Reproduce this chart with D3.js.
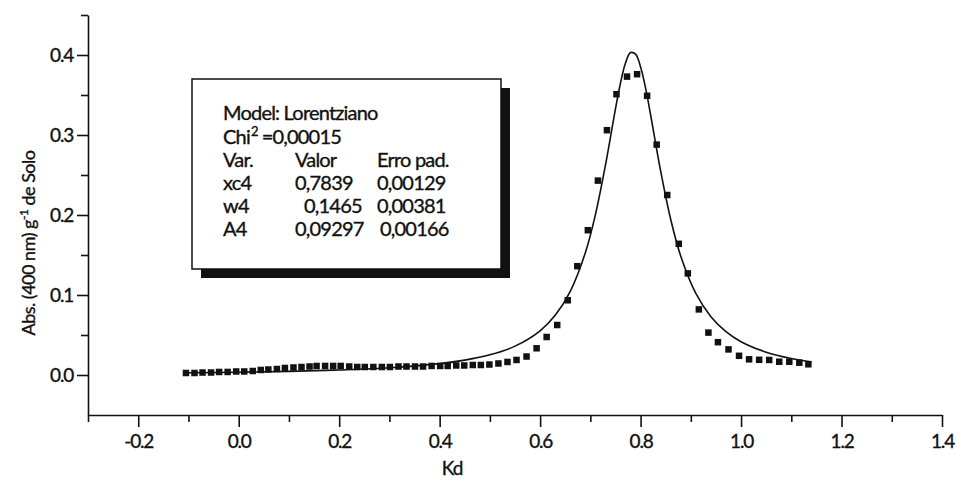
<!DOCTYPE html>
<meta charset="utf-8">

<style>
  body { margin: 0; background: #fff; }
  text { font-family: "Lato", "DejaVu Sans", sans-serif; fill: #111; stroke: #111; stroke-width: 0.35px; }
  .axis path, .axis line { stroke: #111; stroke-width: 1.6px; }
  .axis text { font-size: 19px; letter-spacing: -1.2px; }
  .legend text { font-size: 20px; letter-spacing: -0.8px; }
</style>

<!-- Load d3.js -->
<script src="https://d3js.org/d3.v7.min.js"></script>

<div id="my_dataviz"></div>

<script>

// measured points (Kd, Abs)
var kd = [-0.105, -0.088, -0.072, -0.055, -0.039, -0.022, -0.005, 0.011, 0.028, 0.044,
          0.059, 0.076, 0.092, 0.109, 0.125, 0.141, 0.155, 0.172, 0.188, 0.203,
          0.220, 0.236, 0.251, 0.268, 0.285, 0.301, 0.318, 0.334, 0.351, 0.367,
          0.384, 0.401, 0.416, 0.433, 0.449, 0.466, 0.482, 0.499, 0.517, 0.535,
          0.553, 0.573, 0.593, 0.613, 0.634, 0.655, 0.674, 0.695, 0.715, 0.733,
          0.752, 0.773, 0.793, 0.813, 0.832, 0.853, 0.876, 0.894, 0.916, 0.935,
          0.954, 0.975, 0.996, 1.016, 1.036, 1.056, 1.076, 1.096, 1.116, 1.134];
var abs = [0.0025, 0.0025, 0.0031, 0.0031, 0.0038, 0.0038, 0.0044, 0.0044, 0.0050, 0.0063,
           0.0069, 0.0075, 0.0088, 0.0094, 0.0100, 0.0106, 0.0113, 0.0113, 0.0113, 0.0113,
           0.0106, 0.0100, 0.0100, 0.0100, 0.0100, 0.0100, 0.0106, 0.0106, 0.0106, 0.0106,
           0.0113, 0.0113, 0.0113, 0.0119, 0.0119, 0.0125, 0.0125, 0.0131, 0.0144, 0.0163,
           0.0188, 0.0231, 0.0334, 0.0475, 0.0625, 0.0934, 0.136, 0.181, 0.243, 0.306,
           0.351, 0.373, 0.376, 0.349, 0.288, 0.225, 0.164, 0.127, 0.082, 0.053,
           0.041, 0.032, 0.024, 0.0196, 0.0190, 0.0188, 0.0166, 0.0166, 0.0154, 0.0134];

// fitted curve
var fitKd = [-0.10, 0.00, 0.10, 0.20, 0.30, 0.40, 0.45, 0.50, 0.55, 0.60, 0.63, 0.66, 0.69,
             0.71, 0.73, 0.75, 0.76, 0.77, 0.78, 0.79, 0.80, 0.81, 0.82, 0.84, 0.86, 0.88,
             0.91, 0.94, 0.97, 1.00, 1.05, 1.10, 1.14];
var fitAbs = [0.0028, 0.0035, 0.0045, 0.0063, 0.0090, 0.0142, 0.0186, 0.0252, 0.0361, 0.0553,
              0.0746, 0.1046, 0.1528, 0.2002, 0.2621, 0.3327, 0.365, 0.390, 0.403, 0.401,
              0.385, 0.3585, 0.325, 0.2547, 0.1943, 0.1485, 0.1019, 0.0729, 0.0542, 0.0416,
              0.0285, 0.0206, 0.0164];

// axes
var xTicks = [-0.2, 0.0, 0.2, 0.4, 0.6, 0.8, 1.0, 1.2, 1.4];
var xTickLabels = ["-0.2", "0.0", "0.2", "0.4", "0.6", "0.8", "1.0", "1.2", "1.4"];
var xMinor = [-0.3, -0.1, 0.1, 0.3, 0.5, 0.7, 0.9, 1.1, 1.3];
var yTicks = [0.0, 0.1, 0.2, 0.3, 0.4];
var yTickLabels = ["0.0", "0.1", "0.2", "0.3", "0.4"];
var yMinor = [0.05, 0.15, 0.25, 0.35, 0.45];

// fit results box
var fitTitle = "Model: Lorentziano";
var chiValue = "=0,00015";
var fitHeader = ["Var.", "Valor", "Erro pad."];
var fitParams = ["xc4", "w4", "A4"];
var fitValues = ["0,7839", "0,1465", "0,09297"];
var fitErrors = ["0,00129", "0,00381", "0,00166"];

var margin = {top: 15, right: 15, bottom: 71, left: 88},
    width = 957 - margin.left - margin.right,
    height = 486 - margin.top - margin.bottom;

var svg = d3.select("#my_dataviz")
  .append("svg")
    .attr("width", width + margin.left + margin.right)
    .attr("height", height + margin.top + margin.bottom)
  .append("g")
    .attr("transform", "translate(" + margin.left + "," + margin.top + ")");

var x = d3.scaleLinear()
  .domain([-0.3, 1.4])
  .range([0, width]);

var y = d3.scaleLinear()
  .domain([-0.05, 0.45])
  .range([height, 0]);

// X axis: major + minor ticks
svg.append("g")
  .attr("class", "axis")
  .attr("transform", "translate(0," + height + ")")
  .call(d3.axisBottom(x).tickValues(xTicks).tickSize(12).tickSizeOuter(0)
        .tickFormat(function(d, i) { return xTickLabels[i]; }))
  .selectAll("text").attr("dy", "0.95em");

svg.append("g")
  .attr("class", "axis")
  .attr("transform", "translate(0," + height + ")")
  .call(d3.axisBottom(x).tickValues(xMinor).tickSize(7).tickFormat(""))
  .select(".domain").remove();

// Y axis
svg.append("g")
  .attr("class", "axis")
  .call(d3.axisLeft(y).tickValues(yTicks).tickSize(11).tickSizeOuter(0)
        .tickFormat(function(d, i) { return yTickLabels[i]; }))
  .selectAll("text").attr("x", -15);

svg.append("g")
  .attr("class", "axis")
  .call(d3.axisLeft(y).tickValues(yMinor).tickSize(7).tickFormat(""))
  .select(".domain").remove();

// axis titles
svg.append("text")
  .attr("x", 364)
  .attr("y", height + 60)
  .attr("text-anchor", "middle")
  .style("font-size", "19px")
  .style("letter-spacing", "-1px")
  .text("Kd");

var ylab = svg.append("text")
  .attr("transform", "translate(" + (-53) + "," + (228) + ") rotate(-90)")
  .attr("text-anchor", "middle")
  .style("font-size", "18px")
  .style("letter-spacing", "-0.5px");
ylab.append("tspan").text("Abs. (400 nm) g");
ylab.append("tspan").attr("dy", -7).style("font-size", "12px").text("-1");
ylab.append("tspan").attr("dy", 7).text(" de Solo");

// fitted line
var fit = fitKd.map(function(d, i) { return {x: d, y: fitAbs[i]}; });
var line = d3.line()
  .x(function(d) { return x(d.x); })
  .y(function(d) { return y(d.y); })
  .curve(d3.curveCatmullRom);

svg.append("path")
  .datum(fit)
  .attr("d", line)
  .style("fill", "none")
  .style("stroke", "#111")
  .style("stroke-width", 1.6);

// data squares
var size = 6.5;
svg.selectAll("myPoints")
  .data(kd)
  .enter()
  .append("rect")
    .attr("x", function(d) { return x(d) - size / 2; })
    .attr("y", function(d, i) { return y(abs[i]) - size / 2; })
    .attr("width", size)
    .attr("height", size)
    .style("fill", "#111");

// legend box with shadow
var legend = svg.append("g")
  .attr("class", "legend")
  .attr("transform", "translate(104,64)");

legend.append("rect")
  .attr("x", 9).attr("y", 9)
  .attr("width", 309).attr("height", 190)
  .style("fill", "#111");
legend.append("rect")
  .attr("x", 0).attr("y", 0)
  .attr("width", 309).attr("height", 190)
  .style("fill", "white")
  .style("stroke", "#111")
  .style("stroke-width", 1.5);

var colX = [31, 103, 185];
legend.append("text").attr("x", colX[0]).attr("y", 41).text(fitTitle);

var chi = legend.append("text").attr("x", colX[0]).attr("y", 65);
chi.append("tspan").text("Chi");
chi.append("tspan").attr("dy", -8).attr("dx", 1).style("font-size", "13px").text("2");
chi.append("tspan").attr("dy", 8).attr("dx", 4).text(chiValue);

legend.selectAll("header")
  .data(fitHeader)
  .enter()
  .append("text")
    .attr("x", function(d, i) { return colX[i]; })
    .attr("y", 88)
    .text(function(d) { return d; });

var rows = legend.selectAll("rows")
  .data(fitParams)
  .enter()
  .append("g")
    .attr("transform", function(d, i) { return "translate(0," + (111 + i * 23) + ")"; });

rows.append("text").attr("x", colX[0]).text(function(d) { return d; });
rows.append("text")
  .attr("x", function(d, i) { return i === 1 ? colX[1] + 9 : colX[1]; })
  .text(function(d, i) { return fitValues[i]; });
rows.append("text")
  .attr("x", function(d, i) { return i === 2 ? colX[2] + 3 : colX[2]; })
  .text(function(d, i) { return fitErrors[i]; });

</script>
